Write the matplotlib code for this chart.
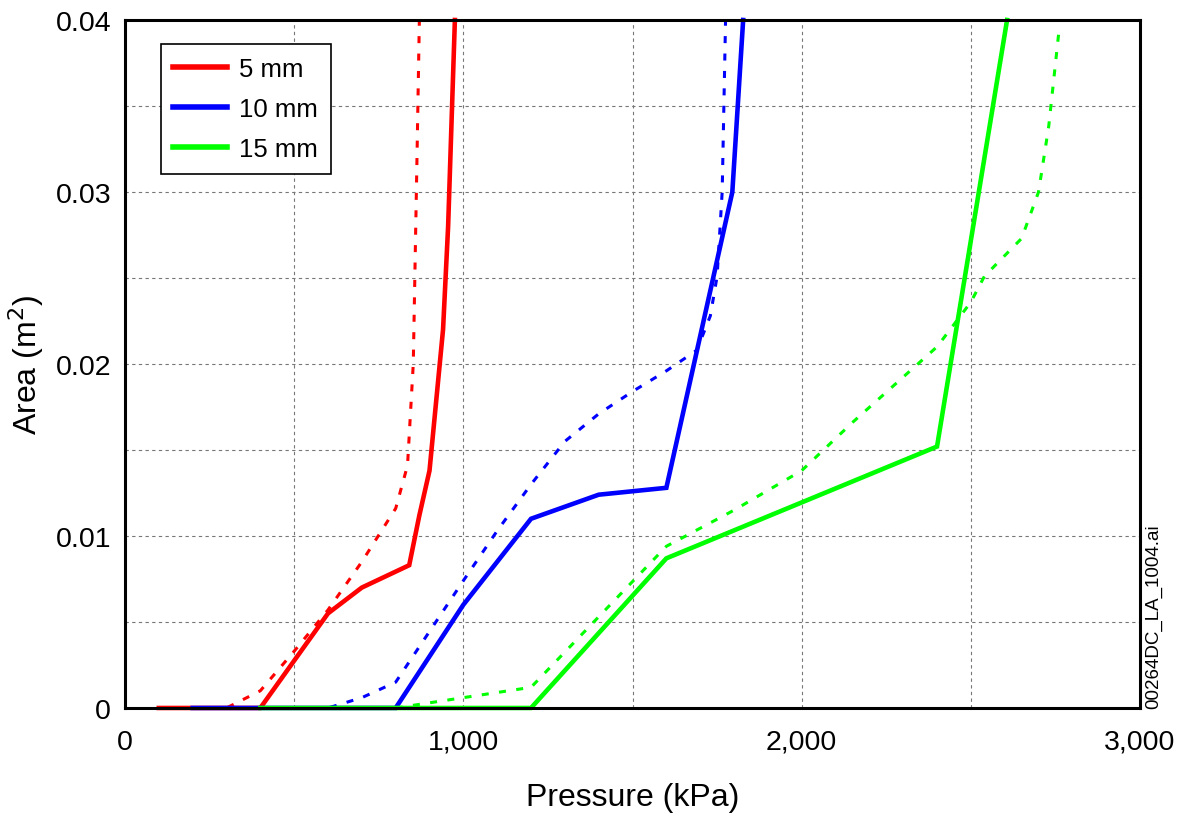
import matplotlib
matplotlib.use("Agg")
import matplotlib.pyplot as plt
from matplotlib.ticker import MultipleLocator, FuncFormatter

plt.rcParams['font.family'] = ['Liberation Sans', 'DejaVu Sans']

# 5 mm
p5_solid = [100, 200, 300, 400, 600, 700, 840, 870, 900, 940, 955, 975]
a5_solid = [0, 0, 0, 0, 0.0055, 0.0070, 0.0083, 0.0112, 0.0138, 0.0220, 0.0280, 0.0400]
p5_dot = [200, 300, 400, 500, 600, 700, 800, 835, 852, 863, 870]
a5_dot = [0, 0, 0.0010, 0.0033, 0.0057, 0.0085, 0.0116, 0.0141, 0.0200, 0.0320, 0.0400]

# 10 mm
p10_solid = [200, 400, 600, 800, 1000, 1200, 1400, 1600, 1795, 1827]
a10_solid = [0, 0, 0, 0, 0.0060, 0.0110, 0.0124, 0.0128, 0.0300, 0.0400]
p10_dot = [400, 500, 600, 700, 800, 1000, 1100, 1200, 1300, 1400, 1500, 1600, 1690, 1730, 1750, 1765, 1775]
a10_dot = [0, 0, 0, 0.0006, 0.0015, 0.0074, 0.0103, 0.0130, 0.0155, 0.0171, 0.0184, 0.0196, 0.0208, 0.0228, 0.0251, 0.0300, 0.0400]

# 15 mm
p15_solid = [400, 600, 800, 1000, 1200, 1600, 2400, 2607]
a15_solid = [0, 0, 0, 0, 0, 0.0087, 0.0152, 0.0400]
p15_dot = [800, 1000, 1200, 1400, 1600, 1800, 2000, 2150, 2400, 2500, 2540, 2650, 2700, 2730, 2760]
a15_dot = [0, 0.0006, 0.0012, 0.0053, 0.0094, 0.0115, 0.0138, 0.0166, 0.0210, 0.0236, 0.0251, 0.0273, 0.0300, 0.0338, 0.0393]

labels = ["5 mm", "10 mm", "15 mm"]
colors = ["#ff0000", "#0000ff", "#00ff00"]

fig = plt.figure(figsize=(11.77, 8.2), dpi=100)
ax = fig.add_axes([0.1062, 0.1354, 0.8624, 0.839])

dots = (0, (2.3, 3.4))
series = [(p5_solid, a5_solid, p5_dot, a5_dot),
          (p10_solid, a10_solid, p10_dot, a10_dot),
          (p15_solid, a15_solid, p15_dot, a15_dot)]
for (ps, as_, pd, ad), lab, c in zip(series, labels, colors):
    ax.plot(pd, ad, color=c, lw=2.2, linestyle=dots, clip_on=False)
    ax.plot(ps, as_, color=c, lw=3.3, label=lab, solid_joinstyle="miter", clip_on=False)

ax.set_xlim(0, 3000)
ax.set_ylim(0, 0.04)
ax.xaxis.set_major_locator(MultipleLocator(1000))
ax.xaxis.set_minor_locator(MultipleLocator(500))
ax.yaxis.set_major_locator(MultipleLocator(0.01))
ax.yaxis.set_minor_locator(MultipleLocator(0.005))
ax.xaxis.set_major_formatter(FuncFormatter(lambda v, _: f"{int(v):,}"))
ax.yaxis.set_major_formatter(FuncFormatter(lambda v, _: "0" if v == 0 else f"{v:.2f}"))
ax.grid(True, which="both", color="#777777", linestyle=(0, (3, 3)), lw=0.8)
ax.set_axisbelow(True)
ax.tick_params(axis="y", which="both", length=0, labelsize=20.5, pad=10)
ax.tick_params(axis="x", which="both", length=0, labelsize=20.5, pad=15)
for s in ax.spines.values():
    s.set_linewidth(2.2)
    s.set_color("black")

ax.set_xlabel("Pressure (kPa)", fontsize=23)
ax.xaxis.set_label_coords(0.5, -0.108)
ax.set_ylabel("Area (m$^2$)", fontsize=23)
ax.yaxis.set_label_coords(-0.078, 0.5)

leg = ax.legend(loc="upper left", bbox_to_anchor=(0.035, 0.965), fontsize=18.5,
                handlelength=2.1, handletextpad=0.45, labelspacing=0.62,
                borderpad=0.5, borderaxespad=0, fancybox=False, framealpha=1,
                edgecolor="black")
leg.get_frame().set_linewidth(1.2)
for line in leg.get_lines():
    line.set_linewidth(4)

fig.text(0.98, 0.248, "00264DC_LA_1004.ai", rotation=90, fontsize=13.5,
         ha="center", va="center")

fig.savefig("out.png", dpi=100)
